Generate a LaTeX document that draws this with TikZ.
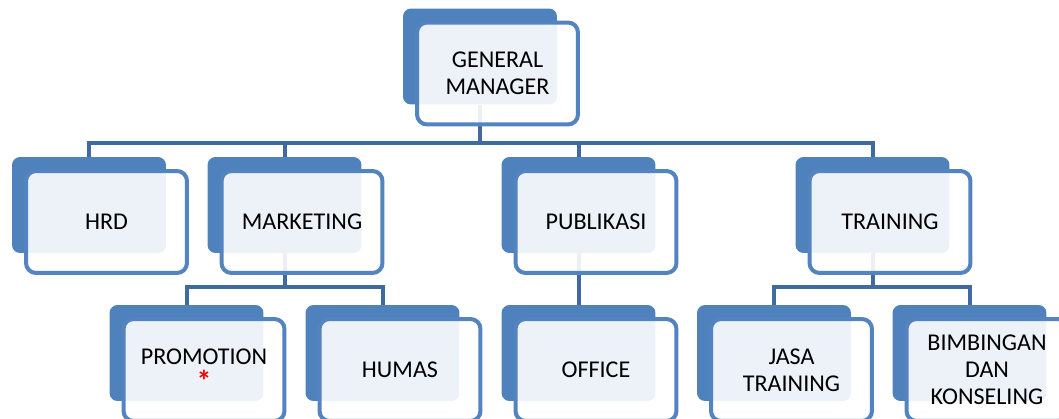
\documentclass[tikz,border=0pt]{standalone}
\usepackage{fontspec}
\setmainfont{Carlito}
\usetikzlibrary{positioning,backgrounds}
\definecolor{BackBlue}{RGB}{79,129,189}
\definecolor{EdgeBlue}{RGB}{84,132,192}
\definecolor{LinkBlue}{RGB}{65,106,160}
\tikzset{
  backbox/.style={fill=BackBlue,rounded corners=0.16cm,minimum width=3.08cm,
    minimum height=1.92cm,inner sep=0pt},
  frontbox/.style={draw=EdgeBlue,line width=0.08cm,fill=white,fill opacity=0.9,
    text opacity=1,rounded corners=0.2cm,minimum width=3.22cm,minimum height=2.04cm,
    align=center,font=\fontsize{13.7}{15.5}\selectfont,xshift=0.35cm,yshift=-0.34cm},
  link/.style={LinkBlue,line width=0.08cm}
}

\begin{document}
\begin{tikzpicture}[x=0.02cm,y=-0.02cm]
  \useasboundingbox (0,0) rectangle (1059,419);

  % top
  \node[backbox] (gm-b) at (480,56.5) {};
  \node[frontbox,at={(gm-b)}] (gm) {GENERAL\\MANAGER};

  % second row
  \node[backbox] (hrd-b) at (89,205) {};
  \node[frontbox,at={(hrd-b)}] (hrd) {HRD};
  \node[backbox] (mkt-b) at (284.5,205) {};
  \node[frontbox,at={(mkt-b)}] (mkt) {MARKETING};
  \node[backbox] (pub-b) at (578.5,205) {};
  \node[frontbox,at={(pub-b)}] (pub) {PUBLIKASI};
  \node[backbox] (trn-b) at (872.5,205) {};
  \node[frontbox,at={(trn-b)}] (trn) {TRAINING};

  % third row
  \node[backbox] (promo-b) at (186.5,353) {};
  \node[frontbox,at={(promo-b)}] (promo) {PROMOTION\\{\color{red}\bfseries\fontsize{17}{15.5}\selectfont *}};
  \node[backbox] (humas-b) at (382.5,353) {};
  \node[frontbox,at={(humas-b)}] (humas) {HUMAS};
  \node[backbox] (office-b) at (578.5,353) {};
  \node[frontbox,at={(office-b)}] (office) {OFFICE};
  \node[backbox] (jasa-b) at (774,353) {};
  \node[frontbox,at={(jasa-b)}] (jasa) {JASA\\TRAINING};
  \node[backbox] (bimb-b) at (969.5,353) {};
  \node[frontbox,at={(bimb-b)}] (bimb) {BIMBINGAN\\DAN\\KONSELING};

  % connectors, under the boxes
  \begin{scope}[on background layer]
    \foreach \n in {hrd,mkt,pub,trn}
      \draw[link] (gm-b.south) -- ++(0,38) -| (\n-b.north);
    \foreach \n in {promo,humas}
      \draw[link] (mkt-b.south) -- ++(0,34) -| (\n-b.north);
    \draw[link] (pub-b.south) -- (office-b.north);
    \foreach \n in {jasa,bimb}
      \draw[link] (trn-b.south) -- ++(0,34) -| (\n-b.north);
  \end{scope}
\end{tikzpicture}
\end{document}
